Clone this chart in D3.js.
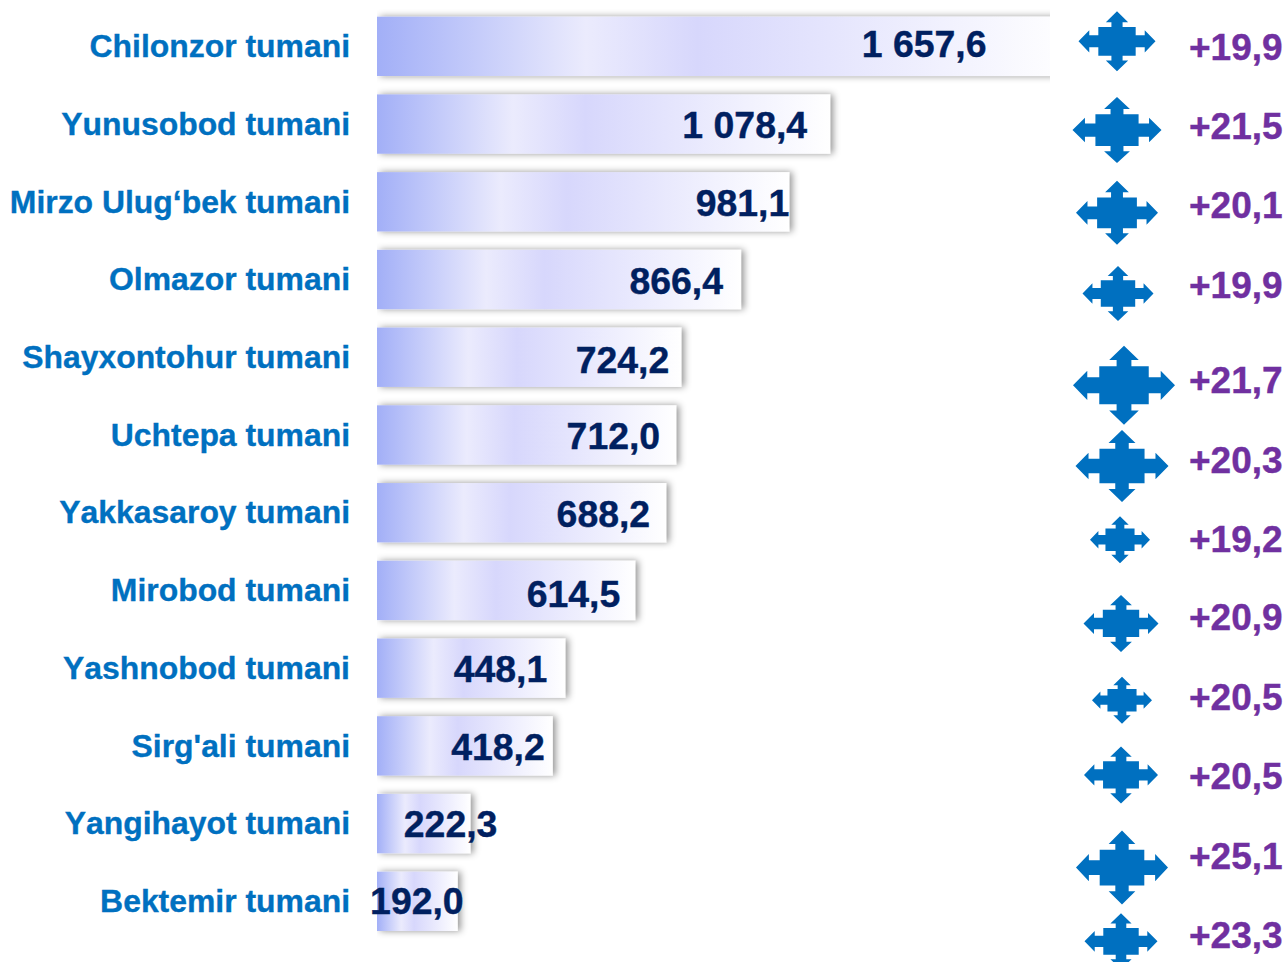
<!DOCTYPE html>
<html><head><meta charset="utf-8">
<script src="https://cdn.jsdelivr.net/npm/d3@7/dist/d3.min.js"></script>
<style>html,body{margin:0;padding:0;background:#fff;overflow:hidden}svg{display:block}text{font-family:"Liberation Sans",Arial,sans-serif;font-weight:bold;font-kerning:none}</style>
</head><body><div id="chart"></div>
<script>
const categories = ["Chilonzor tumani","Yunusobod tumani","Mirzo Ulug‘bek tumani","Olmazor tumani","Shayxontohur tumani","Uchtepa tumani","Yakkasaroy tumani","Mirobod tumani","Yashnobod tumani","Sirg'ali tumani","Yangihayot tumani","Bektemir tumani"];
const values = [1657.6,1078.4,981.1,866.4,724.2,712.0,688.2,614.5,448.1,418.2,222.3,192.0];
const valueLabels = ["1 657,6","1 078,4","981,1","866,4","724,2","712,0","688,2","614,5","448,1","418,2","222,3","192,0"];
const deltas = ["+19,9","+21,5","+20,1","+19,9","+21,7","+20,3","+19,2","+20,9","+20,5","+20,5","+25,1","+23,3"];

// Hand placement seen in the source slide (offsets from the computed position)
const labelDx = [-87,-23,0,-18,-12,-16,-16,-15,-18,-8,27,6];
const labelDy = [-2,1,1,1,3,1,1,3,1,1,0,0];
const deltaDy = [1,2,3,6,23,25,26,27,29,30,32,34];
const arrowDx = [-3,-3,-3,-2,4,2,0,1,2,1,2,1];
const arrowDy = [-5,6,11,14,28,31,27,33,32,29,44,40];
const arrowW = [77,89,82,71,102,93,60,75,60,74,92,73];
const arrowH = [60,66,64,55,79,72,47,57,47,57,74,56];

const W = 1286, H = 962;
const svg = d3.select("#chart").append("svg").attr("width",W).attr("height",H);
const defs = svg.append("defs");

const x = d3.scaleLinear().domain([0,1600]).range([377,1049.3]);
const y = d3.scaleBand().domain(categories).range([16.7,931]).paddingInner(0.237).paddingOuter(0);

const grad = defs.append("linearGradient").attr("id","barGrad").attr("x1","0").attr("x2","1").attr("y1","0").attr("y2","0");
[[0,"#a2aff7"],[0.3,"#ebebfd"],[0.46,"#d7d7fc"],[1,"#ffffff"]].forEach(s=>grad.append("stop").attr("offset",s[0]).attr("stop-color",s[1]));

const f = defs.append("filter").attr("id","shadow").attr("x","-10%").attr("y","-30%").attr("width","125%").attr("height","160%");
f.append("feDropShadow").attr("dx",3).attr("dy",0).attr("stdDeviation",3.5).attr("flood-color","#000").attr("flood-opacity",0.42);

defs.append("clipPath").attr("id","plotClip").append("rect").attr("x",377).attr("y",0).attr("width",673).attr("height",H);

// Bars
svg.append("g").attr("clip-path","url(#plotClip)")
  .selectAll("rect").data(categories).join("rect")
  .attr("x",x(0)).attr("y",c=>y(c))
  .attr("width",(c,i)=>x(values[i])-x(0)).attr("height",y.bandwidth())
  .attr("fill","url(#barGrad)").attr("filter","url(#shadow)");

// Category axis
const axis = d3.axisLeft(y).tickSize(0).tickPadding(27);
const gAxis = svg.append("g").attr("transform",`translate(${x(0)},0.5)`).call(axis);
gAxis.select(".domain").remove();
gAxis.selectAll("text").attr("fill","#0070c0").attr("stroke","#0070c0").attr("stroke-width",0.35)
  .style("font-size","31.9px").style("font-family",'"Liberation Sans",Arial,sans-serif').style("font-weight","bold");

// Value labels
svg.append("g").selectAll("text").data(categories).join("text")
  .attr("x",(c,i)=>x(values[i])+labelDx[i])
  .attr("y",(c,i)=>y(c)+y.bandwidth()/2+labelDy[i])
  .attr("dy","0.35em").attr("text-anchor","end")
  .attr("fill","#002060").attr("stroke","#002060").attr("stroke-width",0.4).style("font-size","37.4px")
  .text((c,i)=>valueLabels[i]);

// Quad arrows, drawn from a unit outline through scales
const unitArrow = [[0,-1],[.29,-.64],[.145,-.64],[.145,-.48],[.485,-.48],[.485,-.2],[.72,-.2],[.72,-.37],[1,0],[.72,.37],[.72,.2],[.485,.2],[.485,.48],[.145,.48],[.145,.64],[.29,.64],[0,1],[-.29,.64],[-.145,.64],[-.145,.48],[-.485,.48],[-.485,.2],[-.72,.2],[-.72,.37],[-1,0],[-.72,-.37],[-.72,-.2],[-.485,-.2],[-.485,-.48],[-.145,-.48],[-.145,-.64],[-.29,-.64]];
const arrowCx = 1120;
svg.append("g").selectAll("path").data(categories).join("path")
  .attr("fill","#0070c0")
  .attr("d",(c,i)=>{
    const cy = y(c)+y.bandwidth()/2+arrowDy[i], cx = arrowCx+arrowDx[i];
    const sx = d3.scaleLinear().domain([-1,1]).range([cx-arrowW[i]/2,cx+arrowW[i]/2]);
    const sy = d3.scaleLinear().domain([-1,1]).range([cy-arrowH[i]/2,cy+arrowH[i]/2]);
    return d3.line().x(d=>sx(d[0])).y(d=>sy(d[1])).curve(d3.curveLinearClosed)(unitArrow);
  });

// Change labels
svg.append("g").selectAll("text").data(categories).join("text")
  .attr("x",1189)
  .attr("y",(c,i)=>y(c)+y.bandwidth()/2+deltaDy[i])
  .attr("dy","0.35em")
  .attr("fill","#7030a0").attr("stroke","#7030a0").attr("stroke-width",0.4).style("font-size","37px")
  .text((c,i)=>deltas[i]);
</script></body></html>
